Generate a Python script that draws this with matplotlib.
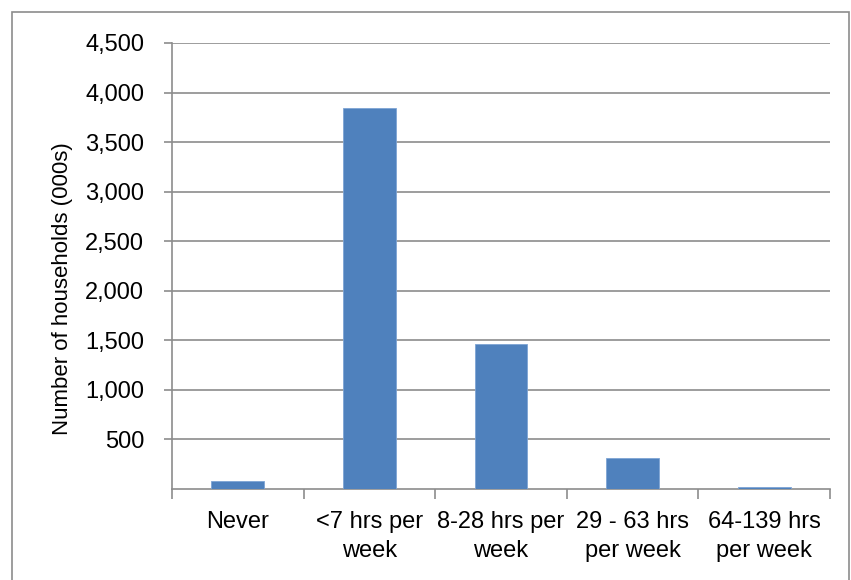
import matplotlib
matplotlib.use('Agg')
import matplotlib.pyplot as plt
from matplotlib.patches import Rectangle

categories = ['Never', '<7 hrs per\nweek', '8-28 hrs per\nweek', '29 - 63 hrs\nper week', '64-139 hrs\nper week']
households = [80, 3840, 1465, 315, 20]
yticks = [500, 1000, 1500, 2000, 2500, 3000, 3500, 4000, 4500]

plt.rcParams['font.family'] = ['Liberation Sans', 'DejaVu Sans']

fig = plt.figure(figsize=(8.51, 5.8), dpi=100)
ax = fig.add_axes([172/851, 1-489/580, (830-172)/851, (489-43)/580])

# chart border
fig.patches.append(Rectangle((12/851, -0.1), (849-12)/851, 1-12/580+0.1, transform=fig.transFigure,
                             fill=False, edgecolor='#8c8c8c', linewidth=1.2))

x = range(len(categories))
ax.bar(x, households, width=0.4, color='#4f81bd', edgecolor='#7ea4d4', linewidth=0.6, zorder=3)

ax.set_xlim(-0.5, len(categories)-0.5)
ax.set_ylim(0, 4500)
ax.set_yticks(yticks)
ax.set_yticklabels([f'{v:,}' for v in yticks], fontsize=17)
ax.yaxis.grid(True, color='#8c8c8c', linewidth=1.2, zorder=0)
ax.tick_params(axis='y', length=6, width=1.2, color='#8c8c8c', pad=14)

ax.set_xticks([i - 0.5 for i in range(len(categories)+1)])
ax.set_xticklabels([])
ax.set_xticks(list(x), minor=True)
ax.set_xticklabels(categories, minor=True, fontsize=17, linespacing=1.4)
ax.tick_params(axis='x', which='major', length=7, width=1.2, color='#8c8c8c')
ax.tick_params(axis='x', which='minor', length=0, pad=16)

for s in ['top', 'right']:
    ax.spines[s].set_visible(False)
for s in ['left', 'bottom']:
    ax.spines[s].set_color('#8c8c8c')
    ax.spines[s].set_linewidth(1.2)

ax.set_ylabel('Number of households (000s)', fontsize=16)
ax.yaxis.set_label_coords(-0.151, 0.45)

fig.savefig('out.png', dpi=100)
